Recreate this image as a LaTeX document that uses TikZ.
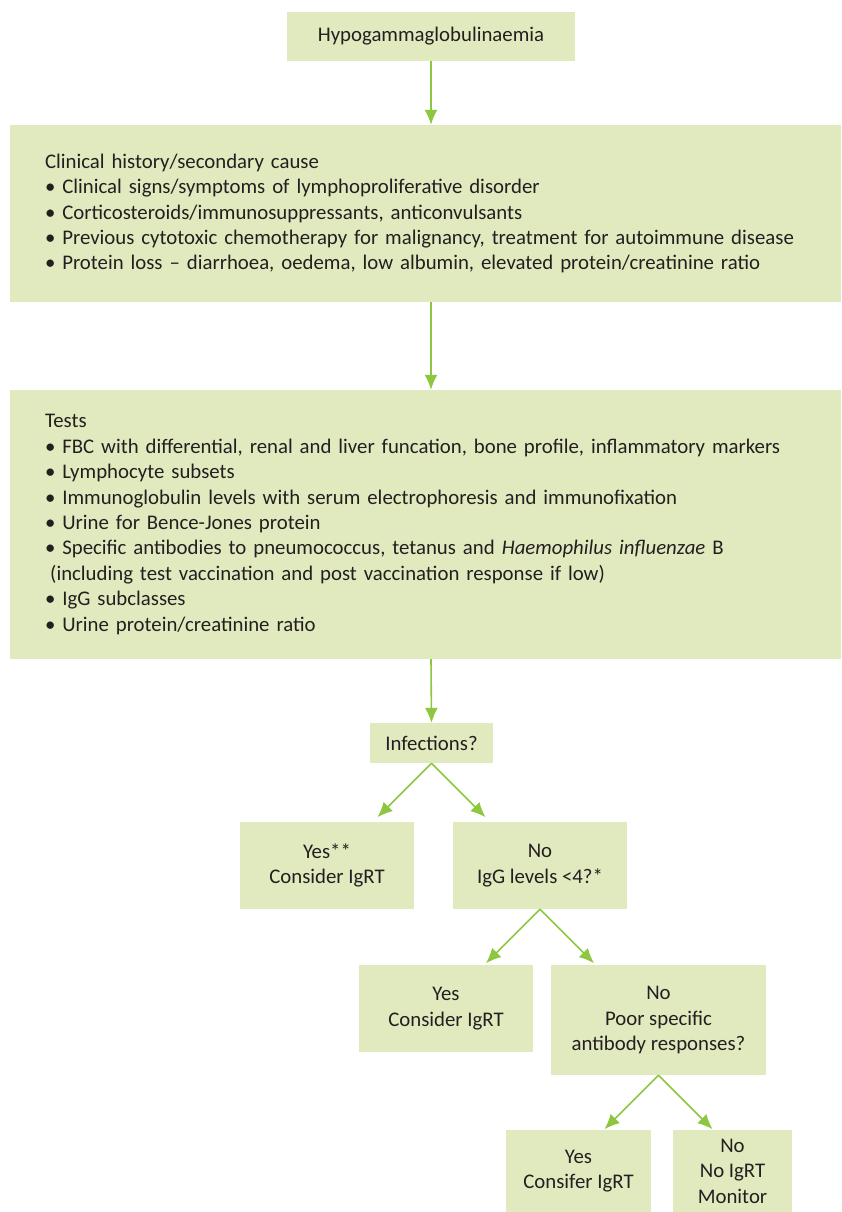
\documentclass[tikz,border=0pt]{standalone}
\usepackage{fontspec}
\setmainfont{Carlito}
\usetikzlibrary{arrows.meta, calc, positioning}
\definecolor{BoxGreen}{RGB}{225,234,190}
\definecolor{ArrowGreen}{RGB}{141,198,63}
\definecolor{TextGrey}{RGB}{35,31,32}

\begin{document}
\begin{tikzpicture}[x = 1pt, y = -1pt]%
    %
    \def\fontbox{\fontsize{20.8}{25.4}\selectfont}%
    \def\armlength{54}%
    %
    \tikzstyle{box} = [fill = BoxGreen, draw = none, text = TextGrey, inner sep = 0pt, align = center, font = \fontbox]%
    \tikzstyle{widebox} = [box, minimum width = 831pt, text width = 761pt, align = left]%
    \tikzstyle{arrow} = [-{Latex[length = 15pt, width = 13pt]}, line width = 1.6pt, draw = ArrowGreen, fill = ArrowGreen]%
    %
    \useasboundingbox (0, 0) rectangle (841, 1212);%
    %
    % Boxes
    \node (hypo) [box, minimum width = 288pt, minimum height = 49pt] at (431, 36.5) {Hypogammaglobulinaemia};%
    \node (history) [widebox, minimum height = 177pt] at (425.5, 213.5) {Clinical history/secondary cause\\
        • Clinical signs/symptoms of lymphoproliferative disorder\\
        • Corticosteroids/immunosuppressants, anticonvulsants\\
        • Previous cytotoxic chemotherapy for malignancy, treatment for autoimmune disease\\
        • Protein loss – diarrhoea, oedema, low albumin, elevated protein/creatinine ratio};%
    \node (tests) [widebox, minimum height = 269pt] at (425.5, 524.5) {Tests\\
        • FBC with differential, renal and liver funcation, bone profile, inflammatory markers\\
        • Lymphocyte subsets\\
        • Immunoglobulin levels with serum electrophoresis and immunofixation\\
        • Urine for Bence-Jones protein\\
        • Specific antibodies to pneumococcus, tetanus and \textit{Haemophilus influenzae} B\\
        \hspace{0.25em}(including test vaccination and post vaccination response if low)\\
        • IgG subclasses\\
        • Urine protein/creatinine ratio};%
    \node (infect) [box, minimum width = 123pt, minimum height = 40pt] at (431.5, 743) {Infections?};%
    \node (yesinfect) [box, minimum width = 174pt, minimum height = 87pt] at (327, 865.5) {Yes**\\Consider IgRT};%
    \node (noinfect) [box, minimum width = 174pt, minimum height = 87pt] at (540, 865.5) {No\\IgG levels <4?*};%
    \node (yeslevel) [box, minimum width = 174pt, minimum height = 87pt] at (446, 1008.5) {Yes\\Consider IgRT};%
    \node (nolevel) [box, minimum width = 215pt, minimum height = 110pt] at (658.5, 1020) {No\\Poor specific\\antibody responses?};%
    \node (yesresp) [box, minimum width = 145pt, minimum height = 82pt] at (578.5, 1171) {Yes\\Consifer IgRT};%
    \node (noresp) [box, minimum width = 119pt, minimum height = 82pt] at (732.5, 1171) {No\\No IgRT\\Monitor};%
    %
    % Arrow ends
    \coordinate (infectL) at ($(infect.south) + (-\armlength, \armlength)$);%
    \coordinate (infectR) at ($(infect.south) + (\armlength, \armlength)$);%
    \coordinate (levelL) at ($(noinfect.south) + (-\armlength, \armlength)$);%
    \coordinate (levelR) at ($(noinfect.south) + (\armlength, \armlength)$);%
    \coordinate (respL) at ($(nolevel.south) + (-\armlength, \armlength)$);%
    \coordinate (respR) at ($(nolevel.south) + (\armlength, \armlength)$);%
    %
    % Straight arrows
    \draw [arrow] (hypo.south) -- (hypo.south |- history.north);%
    \draw [arrow] (hypo.south |- history.south) -- (hypo.south |- tests.north);%
    \draw [arrow] (hypo.south |- tests.south) -- (infect.north);%
    %
    % Branch arrows
    \draw [arrow] (infect.south) -- (infectL);%
    \draw [arrow] (infect.south) -- (infectR);%
    \draw [arrow] (noinfect.south) -- (levelL);%
    \draw [arrow] (noinfect.south) -- (levelR);%
    \draw [arrow] (nolevel.south) -- (respL);%
    \draw [arrow] (nolevel.south) -- (respR);%
    %
\end{tikzpicture}
\end{document}
